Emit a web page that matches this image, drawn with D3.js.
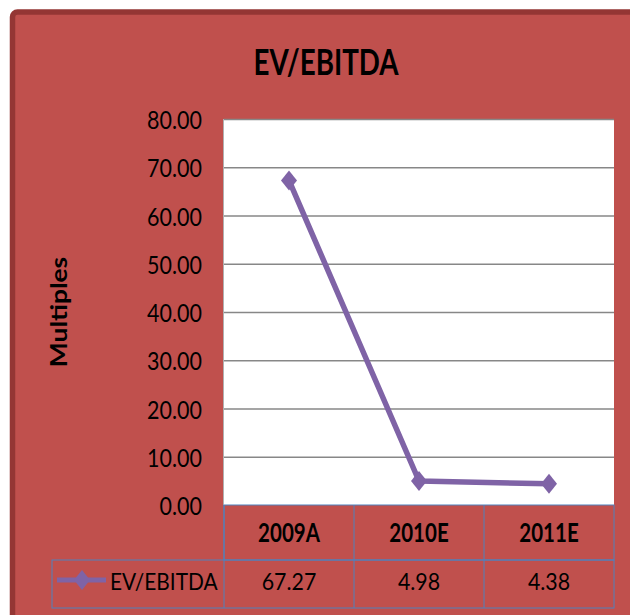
<!DOCTYPE html>
<html><head><meta charset="utf-8">
<script src="https://cdn.jsdelivr.net/npm/d3@7"></script>
<style>html,body{margin:0;padding:0;background:#fff;}svg{display:block;}</style>
</head><body>
<script>
const title = "EV/EBITDA";
const yTitle = "Multiples";
const categories = ["2009A", "2010E", "2011E"];
const seriesName = "EV/EBITDA";
const values = [67.27, 4.98, 4.38];
const valueLabels = ["67.27", "4.98", "4.38"];
const yTicks = [0, 10, 20, 30, 40, 50, 60, 70, 80];

const W = 630, H = 615;
const RED = "#c0504d", DARK = "#943634", PURPLE = "#7f63a6", BLUE = "#4f81bd", GRID = "#878787";
const FONT = "Lato, 'Open Sans', sans-serif";
const plot = {l: 224, r: 614, t: 119, b: 505};
const rowMid = 560, rowBot = 608, legendL = 52;

const svg = d3.select("body").append("svg").attr("width", W).attr("height", H);
svg.append("rect").attr("width", W).attr("height", H).attr("fill", "#fff");
// panel with dark frame (top & left visible)
svg.append("rect").attr("x", 12.5).attr("y", 12).attr("width", W + 20).attr("height", H + 20)
  .attr("rx", 5).attr("fill", RED).attr("stroke", DARK).attr("stroke-width", 5.5);

const x = d3.scaleBand().domain(categories).range([plot.l, plot.r]).padding(0);
const y = d3.scaleLinear().domain([0, 80]).range([plot.b, plot.t]);

// plot area
svg.append("rect").attr("x", plot.l).attr("y", plot.t).attr("width", plot.r - plot.l).attr("height", plot.b - plot.t)
  .attr("fill", "#fff");
svg.append("line").attr("x1", plot.l - 0.5).attr("x2", plot.l - 0.5).attr("y1", plot.t).attr("y2", plot.b)
  .attr("stroke", "#b0b0b0").attr("stroke-width", 1);

// gridlines via axis
const gAxis = svg.append("g").attr("transform", `translate(${plot.l},0)`)
  .call(d3.axisLeft(y).tickValues(yTicks).tickSize(-(plot.r - plot.l)).tickFormat(d => d.toFixed(2)));
gAxis.select(".domain").remove();
gAxis.selectAll(".tick line").attr("stroke", GRID).attr("stroke-width", 1.5)
  .attr("display", d => d === 0 ? "none" : null);
gAxis.selectAll(".tick text")
  .attr("x", 0).attr("dy", null).attr("y", 0)
  .attr("font-family", FONT).attr("font-size", 25).attr("fill", "#000")
  .attr("text-anchor", "end").attr("dominant-baseline", "central")
  .attr("transform", `translate(${202 - plot.l},0) scale(0.86,1)`);

// helper for horizontally compressed text
function txt(s, cx, base, size, weight, sx, anchor) {
  svg.append("text").attr("transform", `translate(${cx},${base}) scale(${sx},1)`)
    .attr("font-family", FONT).attr("font-size", size).attr("font-weight", weight)
    .attr("text-anchor", anchor || "middle").attr("fill", "#000").text(s);
}

// title
txt(title, 326, 75, 37, 700, 0.75);

// y title
svg.append("text").attr("transform", `translate(66.5,312) rotate(-90) scale(1.2,1)`)
  .attr("font-family", FONT).attr("font-size", 22).attr("font-weight", 700)
  .attr("text-anchor", "middle").attr("fill", "#000").text(yTitle);

// data table
const tb = svg.append("g").attr("fill", "none").attr("stroke", BLUE).attr("stroke-width", 1);
tb.append("rect").attr("x", plot.l).attr("y", plot.b).attr("width", plot.r - plot.l).attr("height", rowMid - plot.b);
tb.append("rect").attr("x", legendL).attr("y", rowMid).attr("width", plot.r - legendL).attr("height", rowBot - rowMid);
categories.forEach((c, i) => {
  if (i > 0) tb.append("line").attr("x1", x(c)).attr("x2", x(c)).attr("y1", plot.b).attr("y2", rowBot);
});
tb.append("line").attr("x1", plot.l).attr("x2", plot.l).attr("y1", plot.b).attr("y2", rowBot);

categories.forEach((c, i) => {
  const cx = x(c) + x.bandwidth() / 2;
  txt(c, cx, 542, 27, 700, 0.76);
  txt(valueLabels[i], cx, 590, 24, 400, 0.89);
});

// legend key in table
const diamond = (cx, cy) => `M${cx},${cy - 10}L${cx + 8},${cy}L${cx},${cy + 10}L${cx - 8},${cy}Z`;
svg.append("line").attr("x1", 57).attr("x2", 106).attr("y1", 580).attr("y2", 580)
  .attr("stroke", PURPLE).attr("stroke-width", 5);
svg.append("path").attr("d", diamond(82, 580)).attr("fill", PURPLE);
txt(seriesName, 110, 590, 24, 400, 0.87, "start");

// series line
const pts = categories.map((c, i) => [x(c) + x.bandwidth() / 2, y(values[i])]);
svg.append("path").attr("d", d3.line()(pts)).attr("fill", "none").attr("stroke", PURPLE)
  .attr("stroke-width", 5.5).attr("stroke-linejoin", "round").attr("stroke-linecap", "round");
svg.selectAll(".mk").data(pts).join("path").attr("class", "mk")
  .attr("d", d => diamond(d[0], d[1])).attr("fill", PURPLE);
</script>
</body></html>
